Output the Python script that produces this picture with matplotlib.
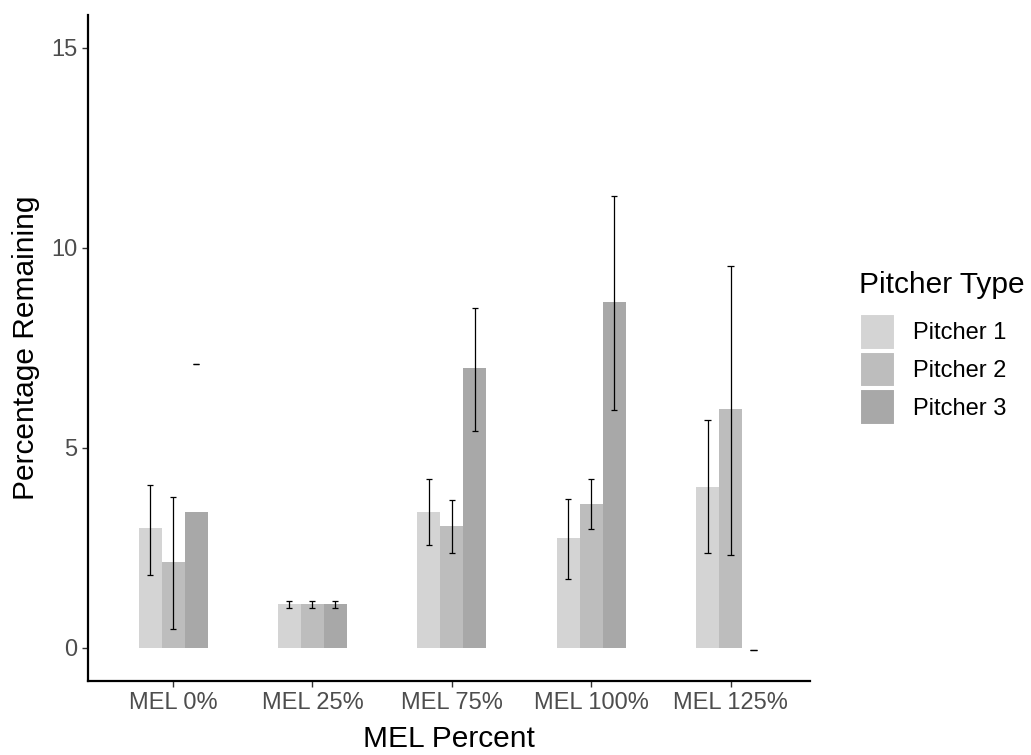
import numpy as np
import matplotlib
matplotlib.use("Agg")
import matplotlib.pyplot as plt
from matplotlib.patches import Patch

plt.rcParams['font.family'] = ['Liberation Sans', 'DejaVu Sans']

# Data:
categories = ["MEL 0%", "MEL 25%", "MEL 75%", "MEL 100%", "MEL 125%"]
series = ["Pitcher 1", "Pitcher 2", "Pitcher 3"]

means_p1 = [3.0, 1.1, 3.4, 2.75, 4.03]
means_p2 = [2.15, 1.1, 3.05, 3.6, 5.97]
means_p3 = [3.4, 1.1, 7.0, 8.65, 0.0]

low_p1 = [1.83, 1.0, 2.58, 1.73, 2.38]
high_p1 = [4.08, 1.17, 4.22, 3.73, 5.7]
low_p2 = [0.48, 1.0, 2.38, 2.98, 2.33]
high_p2 = [3.78, 1.17, 3.7, 4.22, 9.55]
low_p3 = [7.1, 1.0, 5.43, 5.95, -0.05]
high_p3 = [7.1, 1.17, 8.5, 11.3, -0.05]

colors = ["#D4D4D4", "#BDBDBD", "#A8A8A8"]

# Figure setup:
fig = plt.figure(figsize=(10.31, 7.55), dpi=100)
ax = fig.add_axes([88/1031, (755-681)/755, (810-88)/1031, (681-15)/755])

x = np.arange(1, len(categories) + 1)
width = 0.165
means = [means_p1, means_p2, means_p3]
lows = [low_p1, low_p2, low_p3]
highs = [high_p1, high_p2, high_p3]

for i in range(3):
    xs = x + (i - 1) * width
    ax.bar(xs, means[i], width=width, color=colors[i], label=series[i])
    # Error bars (drawn as lines with caps):
    ax.vlines(xs, lows[i], highs[i], color="black", lw=0.9)
    cap = 0.022
    ax.hlines(lows[i], xs - cap, xs + cap, color="black", lw=0.9)
    ax.hlines(highs[i], xs - cap, xs + cap, color="black", lw=0.9)

# Axes:
ax.set_xlim(0.39, 5.57)
ax.set_ylim(-0.825, 15.825)
ax.set_xticks(x)
ax.set_xticklabels(categories)
ax.set_yticks([0, 5, 10, 15])
ax.tick_params(axis="both", labelsize=17, labelcolor="#4D4D4D", color="#333333",
               length=4, width=1)
ax.tick_params(axis="x", pad=4)

for side in ["top", "right"]:
    ax.spines[side].set_visible(False)
for side in ["left", "bottom"]:
    ax.spines[side].set_linewidth(1.6)
    ax.spines[side].set_color("black")

ax.set_xlabel("MEL Percent", fontsize=21.5, labelpad=8)
ax.set_ylabel("Percentage Remaining", fontsize=21.5, labelpad=8)

# Legend (title drawn separately for spacing):
fig.text(859/1031, 1 - 285/755, "Pitcher Type", fontsize=21.5, ha="left", va="center")
handles = [Patch(facecolor=c, edgecolor="white", linewidth=1.5) for c in colors]
leg = fig.legend(handles, series, loc="upper left", bbox_to_anchor=(860/1031, 1 - 314/755),
                 frameon=False, fontsize=17, handlelength=1.5, handleheight=1.95,
                 handletextpad=0.75, labelspacing=0.08, borderpad=0, borderaxespad=0)

# Save:
fig.savefig("out.png", dpi=100)
